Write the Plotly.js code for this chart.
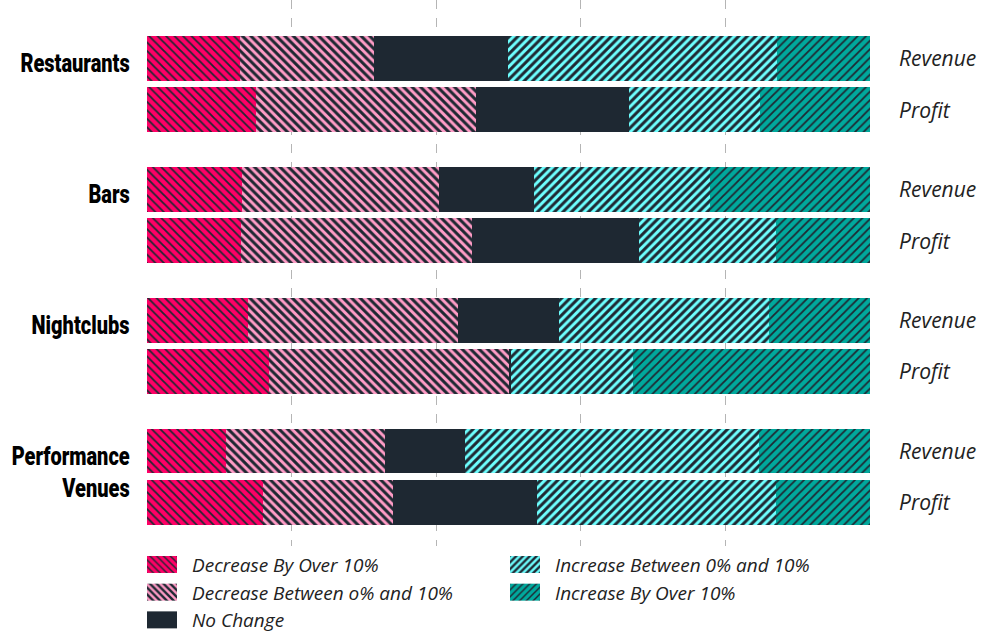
<!DOCTYPE html>
<html>
<head>
<meta charset="utf-8">
<script src="https://cdn.plot.ly/plotly-3.0.1.min.js"></script>
<style>html,body{margin:0;padding:0;background:#fff;}#chart{width:996px;height:634px;}</style>
</head>
<body>
<div id="chart"></div>
<script>
const categories = ["Restaurants", "Bars", "Nightclubs", "Performance<br>Venues"];
const metrics = ["Revenue", "Profit"];
const seriesNames = ["Decrease By Over 10%", "Decrease Between o% and 10%", "No Change", "Increase Between 0% and 10%", "Increase By Over 10%"];
// order of rows: Restaurants Rev, Restaurants Profit, Bars Rev, Bars Profit, Nightclubs Rev, Nightclubs Profit, Perf Rev, Perf Profit
const decOver10  = [12.9, 15.1, 13.1, 13.0, 14.0, 16.9, 10.9, 16.0];
const decBetween = [18.5, 30.4, 27.3, 32.0, 29.0, 33.1, 22.0, 18.0];
const noChange   = [18.5, 21.2, 13.1, 23.0, 14.0, 0.3, 11.1, 19.9];
const incBetween = [37.3, 18.1, 24.4, 19.0, 29.0, 16.9, 40.7, 33.1];
const incOver10  = [12.8, 15.2, 22.1, 13.0, 14.0, 32.8, 15.3, 13.0];

const groupStep = 2.55;
const yPos = [];
const rowLabels = [];
categories.forEach((c, g) => {
  metrics.forEach((m, r) => { yPos.push(g * groupStep + r); rowLabels.push(m); });
});

const dark = "#1e2832";
const styles = [
  {bg: "#ff0066", fg: dark, shape: "\\", sol: 0.3, rank: 1},
  {bg: "#ff9cc6", fg: dark, shape: "\\", sol: 0.5, rank: 3},
  {bg: dark, fg: dark, shape: "", sol: 0.5, rank: 5},
  {bg: "#6dffff", fg: dark, shape: "/", sol: 0.5, rank: 2},
  {bg: "#00a99d", fg: dark, shape: "/", sol: 0.3, rank: 4}
];
const series = [decOver10, decBetween, noChange, incBetween, incOver10];

const traces = series.map((vals, i) => {
  const s = styles[i];
  const marker = {color: s.bg, line: {width: 0}};
  if (s.shape) {
    marker.pattern = {shape: s.shape, bgcolor: s.bg, fgcolor: s.fg, size: 6, solidity: s.sol, fillmode: "replace"};
  }
  return {
    type: "bar", orientation: "h", name: seriesNames[i],
    x: vals, y: yPos, width: 0.87, marker: marker,
    legendrank: s.rank, hoverinfo: "name+x"
  };
});

const annotations = [];
categories.forEach((c, g) => {
  annotations.push({
    xref: "paper", yref: "y", x: 0, y: g * groupStep, xanchor: "right", yanchor: "top",
    xshift: -15, yshift: 11, text: c, showarrow: false, align: "right",
    font: {family: "Roboto, sans-serif", size: 25, color: "#000", weight: 900}
  });
});
yPos.forEach((y, i) => {
  annotations.push({
    xref: "paper", yref: "y", x: 1, y: y, xanchor: "left", yanchor: "middle",
    xshift: 27, text: "<i>" + rowLabels[i] + "</i>", showarrow: false,
    font: {family: "Open Sans, sans-serif", size: 21, color: "#222"}
  });
});

const layout = {
  width: 996, height: 634,
  margin: {l: 147, r: 126, t: 0, b: 86, autoexpand: false},
  barmode: "stack",
  paper_bgcolor: "#fff", plot_bgcolor: "#fff",
  xaxis: {range: [0, 100], tickvals: [0, 20, 40, 60, 80, 100], showticklabels: false,
    showgrid: true, gridcolor: "#b5b5b5", griddash: "dash", gridwidth: 1, zeroline: false, showline: false, fixedrange: true},
  yaxis: {range: [9.54, -1.14], showticklabels: false, showgrid: false, zeroline: false, showline: false, fixedrange: true},
  showlegend: true,
  legend: {orientation: "h", xref: "container", yref: "container", x: 0.1526, xanchor: "left", y: 0.1394, yanchor: "top",
    entrywidth: 318, entrywidthmode: "pixels", traceorder: "normal",
    font: {family: "Open Sans, sans-serif", size: 19, color: "#222", style: "italic"}, tracegroupgap: 0},
  annotations: annotations
};

Plotly.newPlot("chart", traces, layout, {displayModeBar: false, staticPlot: true}).then(gd => {
  // condense the bold group labels horizontally (narrow display face)
  const nGroups = categories.length;
  gd.querySelectorAll("g.annotation").forEach(g => {
    const idx = +g.getAttribute("data-index");
    if (idx >= nGroups) return;
    const t = g.querySelector("text.annotation-text");
    if (!t) return;
    const bb = t.getBBox();
    const xr = bb.x + bb.width;
    t.setAttribute("transform", `translate(${xr},0) scale(0.8,1) translate(${-xr},0)`);
  });
  // larger rectangular legend swatches like the reference
  gd.querySelectorAll(".legend [clip-path]").forEach(el => el.removeAttribute("clip-path"));
  gd.querySelectorAll(".legend g.legendpoints path").forEach(p => {
    p.setAttribute("d", "M-25,-8.5H5V8.5H-25Z");
  });
});
</script>
</body>
</html>
